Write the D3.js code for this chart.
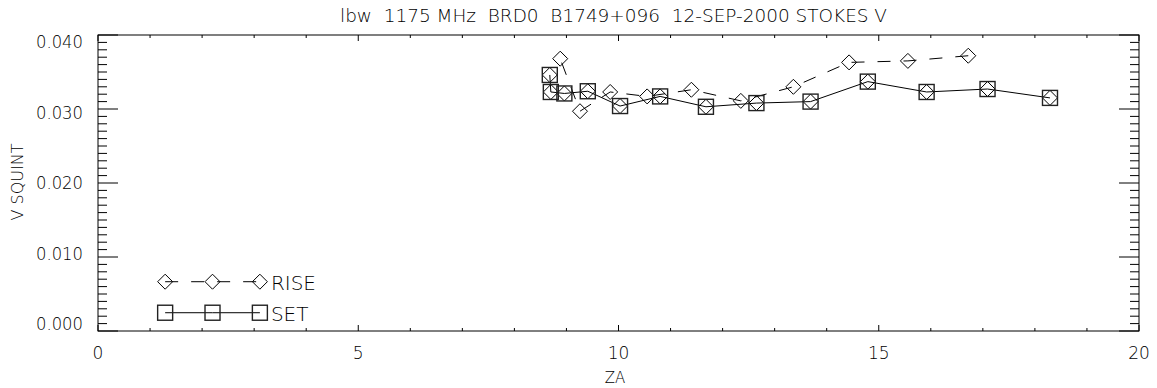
<!DOCTYPE html>
<html>
<head>
<meta charset="utf-8">
<script src="https://cdn.jsdelivr.net/npm/d3@7"></script>
<style>
body { margin: 0; background: #fff; }
text { font-family: "DejaVu Sans", sans-serif; font-weight: 200; fill: #000; }
</style>
</head>
<body>
<script>
var w = 1157, h = 388;

// SET : squares (with diamonds inside), solid line
var setZA = [8.68, 8.70, 8.96, 9.41, 10.03, 10.80, 11.68, 12.65, 13.69, 14.79, 15.92, 17.09, 18.29];
var setV  = [0.0346, 0.0323, 0.0321, 0.0324, 0.0304, 0.0317, 0.0303, 0.0308, 0.0310, 0.0337, 0.0323, 0.0327, 0.0315];

// RISE : diamonds, dashed line
var riseZA = [16.72, 15.56, 14.43, 13.36, 12.35, 11.40, 10.55, 9.84, 9.26, 8.88];
var riseV  = [0.0372, 0.0365, 0.0363, 0.0330, 0.0311, 0.0326, 0.0317, 0.0323, 0.0297, 0.0368];

var xTicks = [0, 5, 10, 15, 20];
var yTicks = [0.000, 0.010, 0.020, 0.030, 0.040];
var legendZA = [1.29, 2.20, 3.11];
var legendV = {RISE: 0.00666, SET: 0.00247};

var title = "lbw  1175 MHz  BRD0  B1749+096  12-SEP-2000 STOKES V";

var x = d3.scaleLinear().domain([0, 20]).range([98, 1139]);
var y = d3.scaleLinear().domain([0, 0.04]).range([331, 35]);
// label positions drift slightly from the ticks in the original
var yLab = d3.scaleLinear().domain([0, 0.04]).range([324, 42]);

var svg = d3.select("body").append("svg")
	.attr("width", w)
	.attr("height", h);

// frame
svg.append("rect")
	.attr("x", x(0)).attr("y", y(0.04))
	.attr("width", x(20) - x(0)).attr("height", y(0) - y(0.04))
	.style("fill", "none").style("stroke", "#000").style("stroke-width", 1);

// ticks on all four sides
var xMinor = d3.range(0, 21, 1);
var yMinor = d3.range(0, 41, 1).map(function(d){ return d / 1000; });

function isMajorX(d){ return d % 5 == 0; }
function isMajorY(d){ return Math.round(d * 1000) % 10 == 0; }

var ticks = svg.append("g").style("stroke", "#000").style("stroke-width", 1);
ticks.selectAll(".xb").data(xMinor).enter().append("line")
	.attr("x1", function(d){ return x(d); }).attr("x2", function(d){ return x(d); })
	.attr("y1", y(0)).attr("y2", function(d){ return y(0) - (isMajorX(d) ? 6 : 3); });
ticks.selectAll(".xt").data(xMinor).enter().append("line")
	.attr("x1", function(d){ return x(d); }).attr("x2", function(d){ return x(d); })
	.attr("y1", y(0.04)).attr("y2", function(d){ return y(0.04) + (isMajorX(d) ? 6 : 3); });
ticks.selectAll(".yl").data(yMinor).enter().append("line")
	.attr("y1", function(d){ return y(d); }).attr("y2", function(d){ return y(d); })
	.attr("x1", x(0)).attr("x2", function(d){ return x(0) + (isMajorY(d) ? 20 : 9); });
ticks.selectAll(".yr").data(yMinor).enter().append("line")
	.attr("y1", function(d){ return y(d); }).attr("y2", function(d){ return y(d); })
	.attr("x1", x(20)).attr("x2", function(d){ return x(20) - (isMajorY(d) ? 20 : 9); });

// tick labels
svg.append("g").selectAll("text").data(xTicks).enter().append("text")
	.attr("x", function(d){ return x(d); }).attr("y", 359)
	.attr("text-anchor", "middle").style("font-size", "17px")
	.text(function(d){ return d; });
svg.append("g").selectAll("text").data(yTicks).enter().append("text")
	.attr("x", 83).attr("y", function(d){ return yLab(d) + 6; })
	.attr("text-anchor", "end").style("font-size", "17px")
	.attr("textLength", 47).attr("lengthAdjust", "spacingAndGlyphs")
	.text(function(d){ return d3.format(".3f")(d); });

// axis titles
svg.append("text")
	.attr("x", 615).attr("y", 383)
	.attr("text-anchor", "middle").style("font-size", "15px")
	.text("ZA");
svg.append("text")
	.attr("transform", "translate(23,182) rotate(-90)")
	.attr("text-anchor", "middle").style("font-size", "16px")
	.text("V SQUINT");

svg.append("text")
	.attr("x", 340).attr("y", 22)
	.attr("textLength", 547).attr("lengthAdjust", "spacingAndGlyphs")
	.style("font-size", "18px").style("white-space", "pre")
	.text(title);

var line = d3.line()
	.x(function(d){ return x(d[0]); })
	.y(function(d){ return y(d[1]); });

var setPts = d3.zip(setZA, setV);
var risePts = d3.zip(riseZA, riseV);

function diamond(g, pts) {
	g.selectAll(null).data(pts).enter().append("path")
		.attr("d", function(d){
			var cx = x(d[0]), cy = y(d[1]), r = 7.5;
			return "M" + (cx - r) + "," + cy + "L" + cx + "," + (cy - r) +
				"L" + (cx + r) + "," + cy + "L" + cx + "," + (cy + r) + "Z";
		})
		.style("fill", "none").style("stroke", "#000").style("stroke-width", 1);
}
function square(g, pts) {
	g.selectAll(null).data(pts).enter().append("rect")
		.attr("x", function(d){ return x(d[0]) - 7.5; })
		.attr("y", function(d){ return y(d[1]) - 7.5; })
		.attr("width", 15).attr("height", 15)
		.style("fill", "none").style("stroke", "#222").style("stroke-width", 1.4);
}

var plot = svg.append("g");
plot.append("path").datum(risePts).attr("d", line)
	.style("fill", "none").style("stroke", "#000").style("stroke-width", 1)
	.style("stroke-dasharray", "13,13");
diamond(plot, risePts);

plot.append("path").datum(setPts).attr("d", line)
	.style("fill", "none").style("stroke", "#000").style("stroke-width", 1);
diamond(plot, setPts);
square(plot, setPts);

// legend
var leg = svg.append("g");
var legRise = legendZA.map(function(d){ return [d, legendV.RISE]; });
var legSet = legendZA.map(function(d){ return [d, legendV.SET]; });
leg.append("path").datum(legRise).attr("d", line)
	.style("fill", "none").style("stroke", "#000").style("stroke-width", 1)
	.style("stroke-dasharray", "13,13");
diamond(leg, legRise);
leg.append("path").datum(legSet).attr("d", line)
	.style("fill", "none").style("stroke", "#000").style("stroke-width", 1);
square(leg, legSet);
leg.append("text").attr("x", x(legendZA[2]) + 11).attr("y", y(legendV.RISE) + 8)
	.style("font-size", "20px").text("RISE");
leg.append("text").attr("x", x(legendZA[2]) + 11).attr("y", y(legendV.SET) + 8)
	.style("font-size", "20px").text("SET");
</script>
</body>
</html>
